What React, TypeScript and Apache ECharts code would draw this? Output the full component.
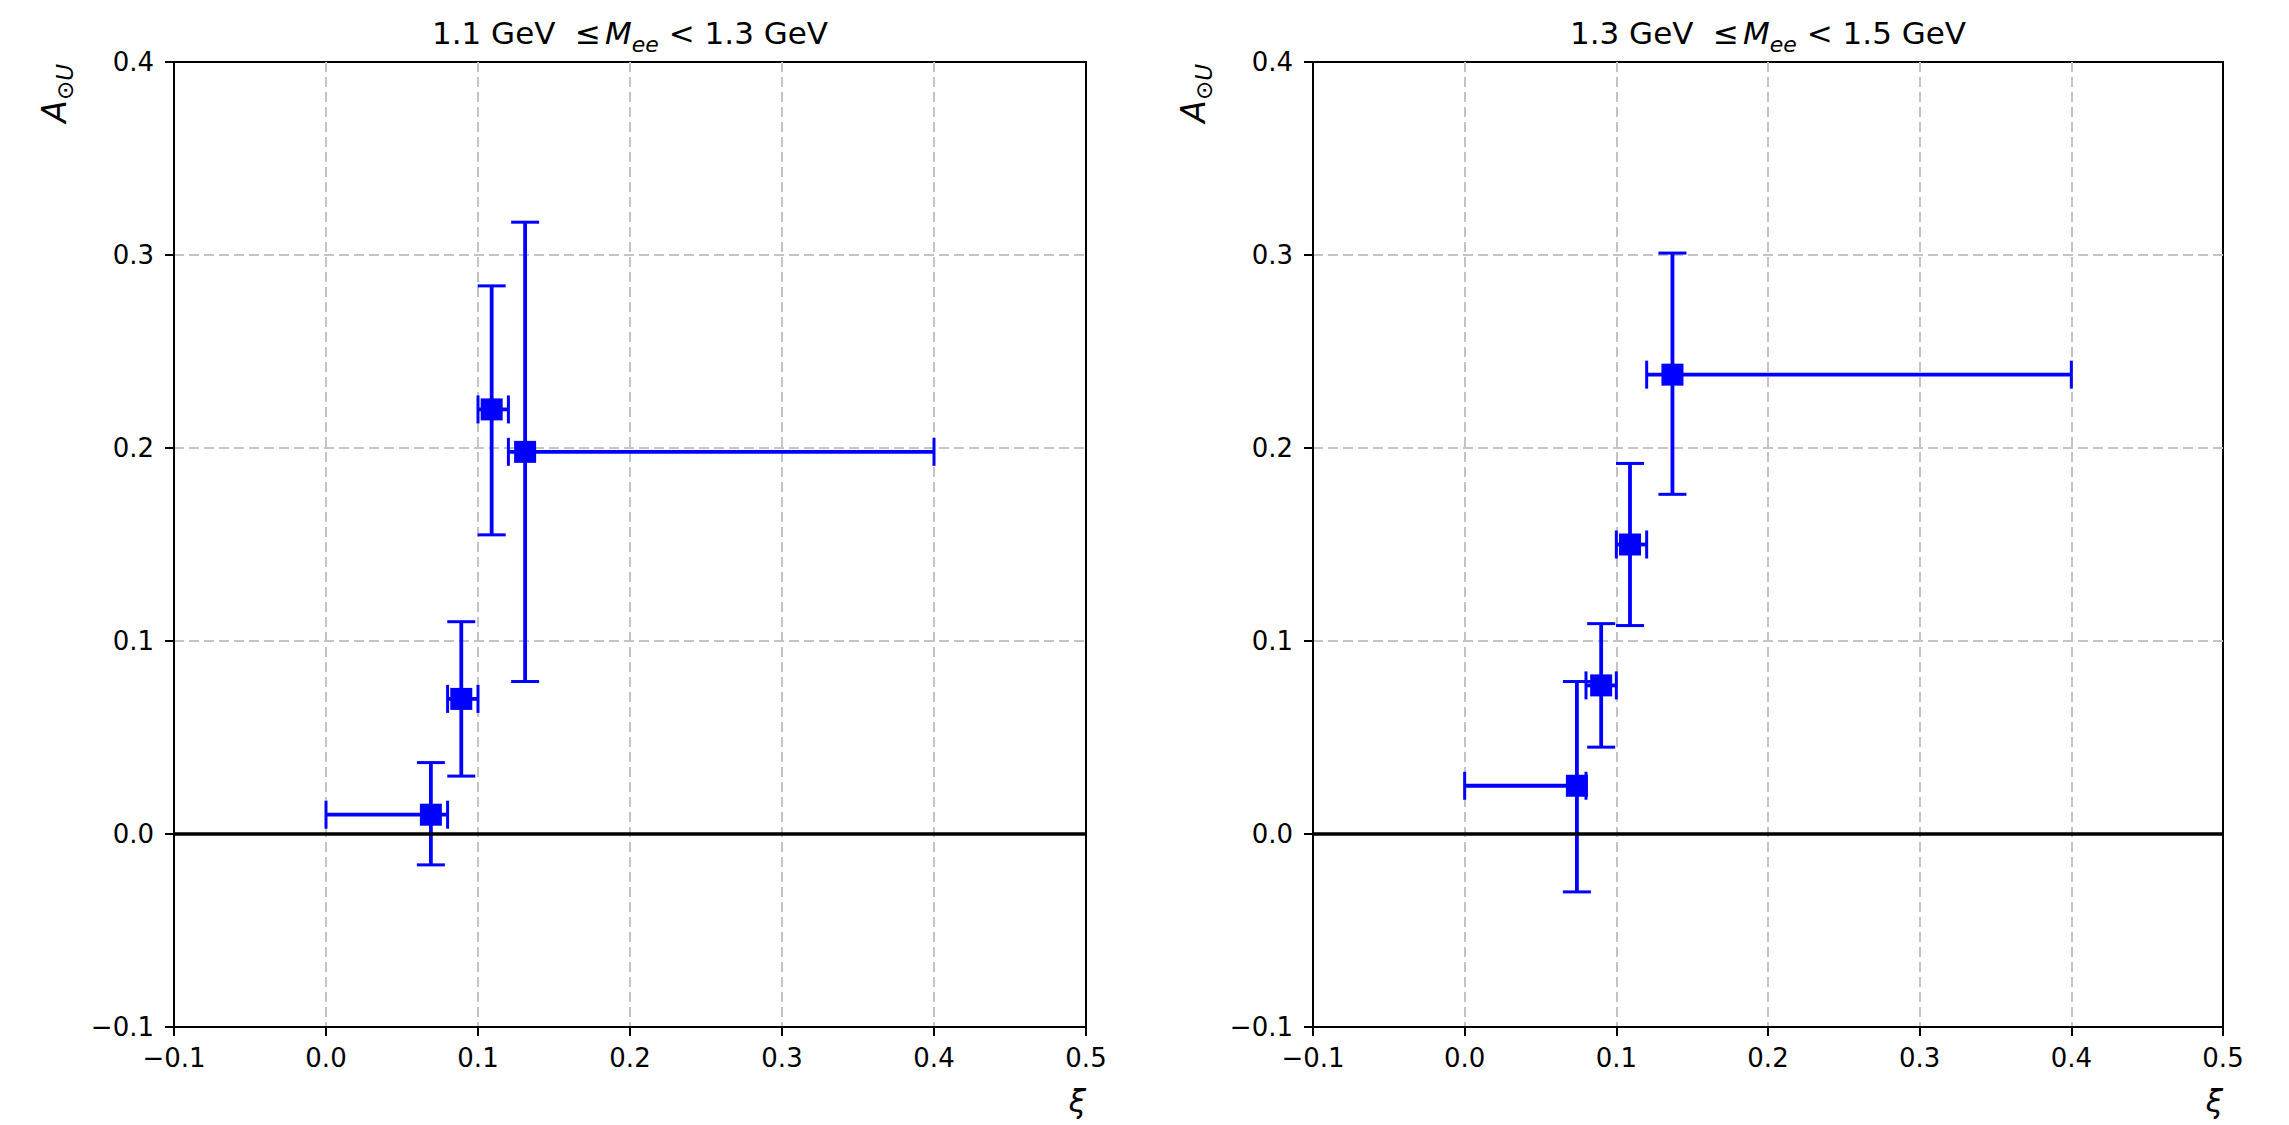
import React, { useEffect, useRef } from "react";
import * as echarts from "echarts";

// ---- Data ----
// Panel 1: 1.1 GeV <= Mee < 1.3 GeV
const xi1 = [0.069, 0.089, 0.109, 0.131];
const a1 = [0.010, 0.070, 0.220, 0.198];
const xiLo1 = [0.0, 0.080, 0.100, 0.120];
const xiHi1 = [0.080, 0.100, 0.120, 0.400];
const aLo1 = [-0.016, 0.030, 0.155, 0.079];
const aHi1 = [0.037, 0.110, 0.284, 0.317];

// Panel 2: 1.3 GeV <= Mee < 1.5 GeV
const xi2 = [0.074, 0.090, 0.109, 0.137];
const a2 = [0.025, 0.077, 0.150, 0.238];
const xiLo2 = [0.0, 0.080, 0.100, 0.120];
const xiHi2 = [0.080, 0.100, 0.120, 0.400];
const aLo2 = [-0.030, 0.045, 0.108, 0.176];
const aHi2 = [0.079, 0.109, 0.192, 0.301];

const panelTitlesLow = ["1.1", "1.3"];
const panelTitlesHigh = ["1.3", "1.5"];

const FONT = "DejaVu Sans";
const BLUE = "#0000ff";

const fmt = (v: number) => {
  const r = Math.round(v * 10) / 10;
  if (Math.abs(r) < 1e-9) return "0.0";
  return (r < 0 ? "\u2212" : "") + Math.abs(r).toFixed(1);
};

function buildRows(x: number[], y: number[], xl: number[], xh: number[], yl: number[], yh: number[]) {
  return x.map((v, i) => [v, y[i], xl[i], xh[i], yl[i], yh[i]]);
}

const renderErr = (params: any, api: any) => {
  const x = api.value(0);
  const y = api.value(1);
  const xl = api.value(2);
  const xh = api.value(3);
  const yl = api.value(4);
  const yh = api.value(5);
  const pL = api.coord([xl, y]);
  const pR = api.coord([xh, y]);
  const pB = api.coord([x, yl]);
  const pT = api.coord([x, yh]);
  const cap = 14;
  const barStyle = { stroke: BLUE, lineWidth: 3.8 };
  const capStyle = { stroke: BLUE, lineWidth: 3 };
  return {
    type: "group",
    children: [
      { type: "line", shape: { x1: pL[0], y1: pL[1], x2: pR[0], y2: pR[1] }, style: barStyle },
      { type: "line", shape: { x1: pB[0], y1: pB[1], x2: pT[0], y2: pT[1] }, style: barStyle },
      { type: "line", shape: { x1: pL[0], y1: pL[1] - cap, x2: pL[0], y2: pL[1] + cap }, style: capStyle },
      { type: "line", shape: { x1: pR[0], y1: pR[1] - cap, x2: pR[0], y2: pR[1] + cap }, style: capStyle },
      { type: "line", shape: { x1: pB[0] - cap, y1: pB[1], x2: pB[0] + cap, y2: pB[1] }, style: capStyle },
      { type: "line", shape: { x1: pT[0] - cap, y1: pT[1], x2: pT[0] + cap, y2: pT[1] }, style: capStyle },
    ],
  };
};

export default function App() {
  const ref = useRef<HTMLDivElement>(null);

  useEffect(() => {
    if (!ref.current) return;
    const chart = echarts.init(ref.current, undefined, { renderer: "svg" });

    const grids = [
      { left: 174, top: 62, width: 912, height: 965 },
      { left: 1313, top: 62, width: 910, height: 965 },
    ];

    const axisCommon = {
      type: "value",
      interval: 0.1,
      axisLine: { show: true, onZero: false, lineStyle: { color: "#000", width: 2 } },
      axisTick: { show: true, inside: false, length: 9, lineStyle: { color: "#000", width: 2 } },
      splitLine: {
        show: true,
        showMinLine: false,
        showMaxLine: false,
        lineStyle: { color: "#c4c4c4", width: 2, type: [10, 5] },
      },
      axisLabel: { color: "#000", fontFamily: FONT, fontSize: 26, formatter: (v: number) => fmt(v) },
    };

    const xAxes = grids.map((_, i) => ({
      ...axisCommon,
      gridIndex: i,
      min: -0.1,
      max: 0.5,
      axisLabel: { ...axisCommon.axisLabel, margin: 18 },
    }));
    const yAxes = grids.map((_, i) => ({
      ...axisCommon,
      gridIndex: i,
      min: -0.1,
      max: 0.4,
      axisLabel: { ...axisCommon.axisLabel, margin: 20 },
    }));

    const panels = [
      { x: xi1, y: a1, rows: buildRows(xi1, a1, xiLo1, xiHi1, aLo1, aHi1) },
      { x: xi2, y: a2, rows: buildRows(xi2, a2, xiLo2, xiHi2, aLo2, aHi2) },
    ];

    const series: any[] = [];
    panels.forEach((p, i) => {
      series.push({
        type: "custom",
        xAxisIndex: i,
        yAxisIndex: i,
        z: 4,
        renderItem: renderErr,
        encode: { x: 0, y: 1 },
        data: p.rows,
        markLine: {
          silent: true,
          symbol: "none",
          label: { show: false },
          lineStyle: { color: "#000", width: 3.6, type: "solid" },
          data: [{ yAxis: 0 }],
        },
      });
      series.push({
        type: "scatter",
        xAxisIndex: i,
        yAxisIndex: i,
        z: 5,
        symbol: "rect",
        symbolSize: 22,
        itemStyle: { color: BLUE, opacity: 1 },
        data: p.x.map((v, k) => [v, p.y[k]]),
      });
    });

    const graphics: any[] = [];
    grids.forEach((g, i) => {
      const cx = g.left + g.width / 2;
      graphics.push({
        type: "text",
        x: cx,
        y: 33,
        style: {
          text: `{n|${panelTitlesLow[i]} GeV  \u2264}{m|M}{s|ee}{n| < ${panelTitlesHigh[i]} GeV}`,
          align: "center",
          verticalAlign: "middle",
          fill: "#000",
          rich: {
            n: { fontFamily: FONT, fontSize: 31, fill: "#000", lineHeight: 44, verticalAlign: "middle" },
            m: { fontFamily: FONT, fontSize: 31, fontStyle: "italic", fill: "#000", lineHeight: 44, verticalAlign: "middle", padding: [0, 0, 0, 4] },
            s: { fontFamily: FONT, fontSize: 22, fontStyle: "italic", fill: "#000", lineHeight: 44, verticalAlign: "bottom" },
          },
        },
      });
      // y label
      graphics.push({
        type: "text",
        x: g.left - 120,
        y: 64,
        rotation: Math.PI / 2,
        style: {
          text: "{a|A}{b|\u2299U}",
          align: "right",
          verticalAlign: "middle",
          fill: "#000",
          rich: {
            a: { fontFamily: FONT, fontSize: 33, fontStyle: "italic", fill: "#000", lineHeight: 44, verticalAlign: "middle" },
            b: { fontFamily: FONT, fontSize: 23, fontStyle: "italic", fill: "#000", lineHeight: 44, verticalAlign: "bottom" },
          },
        },
      });
      // x label
      graphics.push({
        type: "text",
        x: g.left + g.width,
        y: 1101,
        style: {
          text: "\u03be",
          align: "right",
          verticalAlign: "middle",
          fontFamily: FONT,
          fontSize: 31,
          fontStyle: "italic",
          fill: "#000",
        },
      });
    });

    chart.setOption({
      animation: false,
      backgroundColor: "#fff",
      grid: grids.map((g) => ({
        ...g,
        show: true,
        borderColor: "#000",
        borderWidth: 2,
        backgroundColor: "transparent",
        containLabel: false,
      })),
      xAxis: xAxes,
      yAxis: yAxes,
      series,
      graphic: graphics,
    });

    return () => chart.dispose();
  }, []);

  return (
    <div
      ref={ref}
      style={{ position: "absolute", left: 0, top: 0, width: 2289, height: 1125 }}
    />
  );
}
